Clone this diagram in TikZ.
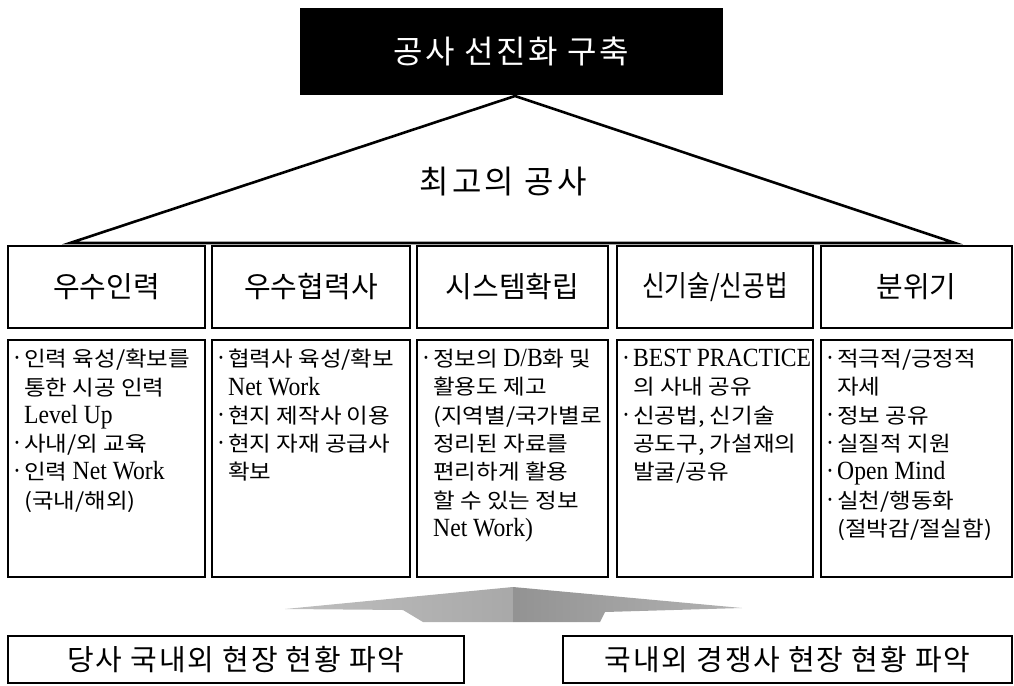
\documentclass[tikz,border=0pt]{standalone}
\usepackage{fontspec}
\usepackage{graphicx}
\setmainfont{Noto Sans CJK KR}
\newfontfamily\krc[FakeStretch=1.12]{Noto Sans CJK KR}
\newfontfamily\latf[Scale=1.25,FakeStretch=0.9]{Liberation Serif}
\newcommand\La[1]{{\latf #1}}
\newcommand\bl{\makebox[11pt][l]{\latf ·}}
\newcommand\ind{\hspace*{11pt}}
\begin{document}
\begin{tikzpicture}[x=1pt,y=-1pt,
  box/.style={draw, line width=2.4pt, inner sep=0pt},
  head/.style={box, minimum height=82pt, font=\fontsize{29}{29}\selectfont},
  cbox/.style={box, minimum height=237pt},
  bottombox/.style={draw, line width=2pt, inner sep=0pt, minimum height=47pt, font=\fontsize{29}{29}\selectfont\addfontfeature{LetterSpace=6}},
  body/.style={anchor=north west, inner sep=0pt, align=left, font=\krc\fontsize{21}{28.3}\selectfont},
  tri/.style={line width=2.6pt, line join=miter},
]
\useasboundingbox (0,0) rectangle (1014,685);

% title
\node[fill=black, text=white, inner sep=0pt, minimum width=423pt, minimum height=87pt,
      font=\fontsize{32}{32}\selectfont\addfontfeature{LetterSpace=8}] (title) at (511.5,51.5) {공사 선진화 구축};

% triangle
\coordinate (apex) at (515,96);
\coordinate (tl) at (70,243);
\coordinate (tr) at (955,243);
\draw[tri] (tl) -- (apex) -- (tr) -- cycle;
\node[font=\fontsize{32}{32}\selectfont\addfontfeature{LetterSpace=10}] (best) at (503,182) {최고의 공사};

% heading boxes
\node[head, minimum width=197pt] (h1) at (106.5,287) {우수인력};
\node[head, minimum width=198pt] (h2) at (311,287) {우수협력사};
\node[head, minimum width=191pt] (h3) at (512.5,287) {시스템확립};
\node[head, minimum width=196pt] (h4) at (715,287) {\scalebox{0.85}[1]{신기술/신공법}};
\node[head, minimum width=191pt] (h5) at (916.5,287) {분위기};

% content boxes
\node[cbox, minimum width=197pt] (c1) at (106.5,458.5) {};
\node[cbox, minimum width=198pt] (c2) at (311,458.5) {};
\node[cbox, minimum width=191pt] (c3) at (512.5,458.5) {};
\node[cbox, minimum width=196pt] (c4) at (715,458.5) {};
\node[cbox, minimum width=191pt] (c5) at (916.5,458.5) {};

\node[body] (t1) at (13,349) {\bl 인력 육성/확보를\\ \ind 통한 시공 인력\\ \ind \La{Level Up}\\ \bl 사내/외 교육\\ \bl 인력 \La{Net Work}\\ \ind (국내/해외)};
\node[body] (t2) at (217,349) {\bl 협력사 육성/확보\\ \ind \La{Net Work}\\ \bl 현지 제작사 이용\\ \bl 현지 자재 공급사\\ \ind 확보};
\node[body] (t3) at (422,349) {\bl 정보의 \La{D/B}화 및\\ \ind 활용도 제고\\ \ind (지역별/국가별로\\ \ind 정리된 자료를\\ \ind 편리하게 활용\\ \ind 할 수 있는 정보\\ \ind \La{Net Work)}};
\node[body] (t4) at (622,349) {\bl \La{BEST PRACTICE}\\ \ind 의 사내 공유\\ \bl 신공법, 신기술\\ \ind 공도구, 가설재의\\ \ind 발굴/공유};
\node[body] (t5) at (826,349) {\bl 적극적/긍정적\\ \ind 자세\\ \bl 정보 공유\\ \bl 실질적 지원\\ \bl \La{Open Mind}\\ \bl 실천/행동화\\ \ind (절박감/절실함)};

% gray arrow shape
\shade[left color=gray!50, right color=gray!68] (285,609) -- (513,587) -- (513,622) -- (423,622) -- (403,610) -- cycle;
\shade[left color=gray!85, right color=gray!60] (513,587) -- (742,608) -- (605,612) -- (600,622) -- (513,622) -- cycle;

% bottom boxes
\node[bottombox, minimum width=456pt] (b1) at (236,659.5) {당사 국내외 현장 현황 파악};
\node[bottombox, minimum width=449pt] (b2) at (787.5,659.5) {국내외 경쟁사 현장 현황 파악};
\end{tikzpicture}
\end{document}
